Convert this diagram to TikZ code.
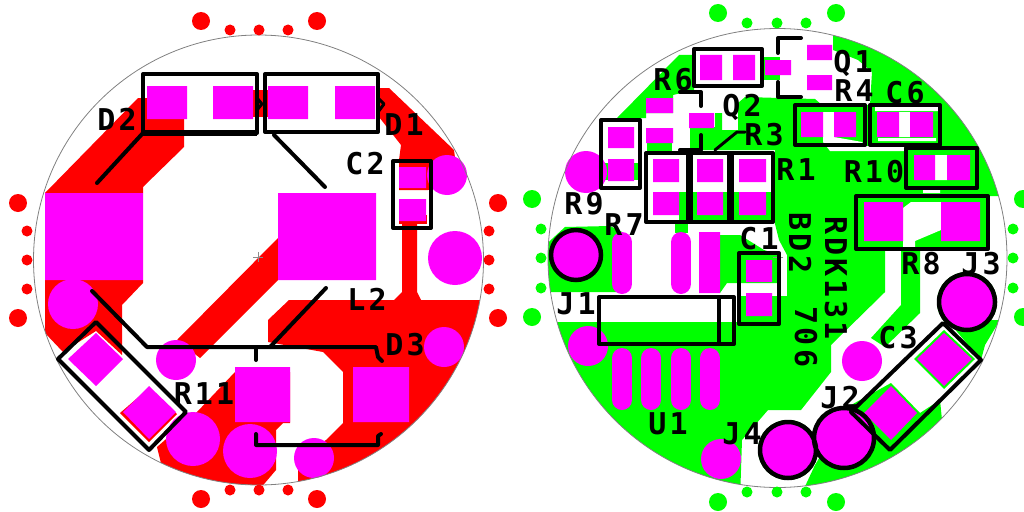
\documentclass[tikz,border=0pt]{standalone}
\usepackage{fontspec}
\newfontfamily\silkfont[LetterSpace=10,BoldFont={DejaVu Sans Mono Bold}]{DejaVu Sans Mono}
\definecolor{mag}{RGB}{255,0,255}
\definecolor{cured}{RGB}{255,0,0}
\definecolor{cugreen}{RGB}{0,255,0}
\tikzset{
  pad/.style={fill=mag},
  silk/.style={draw=black,line width=4pt,line join=round,line cap=round},
  ring/.style={draw=black,line width=4.5pt},
  outline/.style={draw=black!50,line width=0.8pt},
  lab/.style={text=black,inner sep=0pt,text height=22pt,text depth=0pt,font=\silkfont\bfseries\fontsize{30}{30}\selectfont},
  longpad/.style={draw=mag,line width=20pt,line cap=round},
}
\begin{document}
\begin{tikzpicture}[x=1pt,y=-1pt]
\useasboundingbox (0,0) rectangle (1024,511);
% ---------- left board: copper
\begin{scope}
\clip (258.5,260) circle (225);
\fill[cured] (45,193)--(138,98)--(184,98)--(184,147)--(143,187)--(143,193)--cycle;
\fill[cured] (253,90) rectangle (268,117);
\fill[cured] (376,88)--(389,88)--(454,150)--(458,180)--(428,190)--(399,190)--(399,160)--(401,145)--(379,117)--(376,117)--cycle;
\fill[cured] (402,215)--(417,215)--(417,292)--(421,300)--(490,300)--(490,500)--(298,500)--(298,458)--(326,440)--(343,423)--(343,372)--(323,352)--(268,342)--(268,320)--(289,300)--(394,300)--(402,292)--cycle;
\fill[cured] (399,215)--(427,215)--(427,224)--(399,224)--cycle;
\fill[cured] (45,280)--(45,333)--(63,352)--(96,331)--(122,355)--(122,305)--(143,283)--(143,280)--cycle;
\fill[cured] (278,238)--(177,340)--(200,358)--(278,280)--cycle;
\fill[cured] (235,372)--(197,412)--(157,447)--(170,500)--(259,490)--(276,470)--(276,430)--(283,423)--(290,423)--(290,372)--cycle;
\fill[cured] (149,388)--(177,414)--(149,442)--(120,413)--cycle;
\end{scope}
% left pads
\path[pad] (147,86) rectangle (187,119) (213,86) rectangle (253,119)
  (268,86) rectangle (308,119) (335,86) rectangle (375,119)
  (399,167) rectangle (426,188) (399,199) rectangle (426,221)
  (45,193) rectangle (143,280) (278,193) rectangle (376,280)
  (235,367) rectangle (290,422) (353,367) rectangle (409,422);
\path[pad] (96,333)--(123,359)--(96,386)--(68,359)--cycle
  (149,386)--(176,412)--(149,439)--(123,412)--cycle;
\path[pad] (73,304) circle (25) (176,360) circle (20) (193,439) circle (27)
  (250,451) circle (27) (314,458) circle (20) (444,347) circle (20)
  (455,258) circle (27) (447,175) circle (20);
\path[outline] (258.5,260) circle (225);
\draw[black!45,line width=0.6pt] (253,257)--(263,257) (258,252)--(258,262);
% left drill dots
\fill[cured] (201,21) circle (9) (317,21) circle (9) (201,499) circle (9) (317,499) circle (9)
  (18,203) circle (9) (18,318) circle (9) (498,203) circle (9) (498,318) circle (9);
\fill[cured] (230,30) circle (5.5) (259,30) circle (5.5) (288,30) circle (5.5)
  (230,490) circle (5.5) (259,490) circle (5.5) (288,490) circle (5.5)
  (27,231) circle (5.5) (27,260) circle (5.5) (27,289) circle (5.5)
  (489,231) circle (5.5) (489,260) circle (5.5) (489,289) circle (5.5);
% left silk
\path[silk] (143,74) rectangle (257,133);
\draw[black,line width=6pt] (143,133)--(257,133);
\path[silk] (265,74) rectangle (378,132);
\path[silk] (143,133)--(97,183) (274,135)--(325,187);
\path[silk] (92,291)--(147,347)--(376,347)--(378,357)--(382,361);
\path[silk] (326,288)--(270,347);
\path[silk] (256,347)--(256,360);
\path[silk] (256,434)--(256,445)--(378,445)--(378,436)--(381,434);
\path[silk] (393,161) rectangle (431,228);
\path[silk] (96,322)--(58,359)--(149,450)--(186,412)--cycle;
\path[silk,line width=3pt] (378,98)--(384,104)--(378,112) (257,98)--(262,104)--(257,110);
% left labels
\node[lab] (tD2) at (117,119) {D2};
\node[lab] (tD1) at (404,124) {D1};
\node[lab] (tC2) at (365,163) {C2};
\node[lab] (tL2) at (367,299) {L2};
\node[lab] (tD3) at (405,344) {D3};
\node[lab] (tR11) at (204,393) {R11};
% ---------- right board: copper
\begin{scope}
\clip (777.5,258) circle (229.5);
\fill[cugreen] (617,118)--(679,55)--(694,55)--(694,90)--(673,95)--(673,113)--(646,113)--(646,118)--cycle;
\fill[cugreen] (647,143)--(672,143)--(672,153)--(647,153)--cycle;
\fill[cugreen] (602,163) rectangle (640,180);
\fill[cugreen] (679,192) rectangle (775,222);
\fill[cugreen] (675,222) rectangle (688,233);
\fill[cugreen] (764,57) rectangle (780,80);
\fill[cugreen] (540,250)--(565,227)--(610,226)--(622,232)--(622,292)--(540,292)--cycle;
\fill[cugreen] (720,235)--(740,235)--(764,250)--(779,255)--(779,283)--(727,283)--(720,293)--cycle;
% main area
\fill[cugreen] (530,322)--(737,322)--(737,296)--(787,296)--(787,255)--(779,240)--(775,224)--(775,150)--(690,150)--(690,127)--(715,127)--(715,113)--(722,113)--(722,130)--(738,130)--(738,103)--(745,97)--(815,99)--(822,105)--(870,105)--(872,72)--(858,60)--(833,50)--(833,20)--(1020,20)--(1020,196)--(988,196)--(988,250)--(920,250)--(920,313)--(885,347)--(871,338)--(901,305)--(901,250)--(885,250)--(885,292)--(831,345)--(831,372)--(801,410)--(768,410)--(742,440)--(740,500)--(530,500)--cycle;
% lower right patches
\fill[cugreen] (801,495)--(815,465)--(851,405)--(891,383)--(920,413)--(940,400)--(950,500)--cycle;
\fill[cugreen] (944,330)--(975,359)--(944,389)--(914,359)--cycle;
\fill[cugreen] (947,320)--(1000,320)--(985,345)--(981,360)--cycle;
\fill[cugreen] (967,302) circle (30) (844,438) circle (31) (788,450) circle (30);
% cleared channels
\fill[white] (823,112)--(834,112)--(834,137)--(862,142)--(865,146)--(906,146)--(906,151)--(830,151)--(823,142)--cycle;
\fill[white] (899,112) rectangle (910,137) (878,138) rectangle (936,141) (875,107) rectangle (938,111);
\fill[white] (935,155) rectangle (947,180) (923,190) rectangle (940,193);
\fill[white] (903,208)--(911,202)--(941,202)--(941,230)--(915,241)--(915,248)--(903,248)--cycle;
\fill[white] (652,182) rectangle (775,192);
\fill[white] (692,155) rectangle (697,182) (723,155) rectangle (727,182) (733,155) rectangle (739,182) (766,155) rectangle (771,182);
\end{scope}
% right pads
\path[pad] (608,127) rectangle (634,148) (608,159) rectangle (634,181)
  (646,98) rectangle (673,113) (646,128) rectangle (673,143)
  (689,113) rectangle (714,128)
  (653,159) rectangle (679,182) (653,192) rectangle (679,215)
  (697,159) rectangle (723,182) (697,192) rectangle (723,215)
  (739,159) rectangle (766,182) (739,192) rectangle (766,215)
  (700,55) rectangle (722,80) (733,55) rectangle (755,80)
  (807,45) rectangle (832,60) (807,75) rectangle (832,90) (765,60) rectangle (791,75)
  (801,112) rectangle (823,137) (834,112) rectangle (856,137)
  (877,112) rectangle (899,137) (910,112) rectangle (933,137)
  (914,155) rectangle (935,180) (947,155) rectangle (970,180)
  (864,202) rectangle (903,241) (941,202) rectangle (980,241)
  (746,260) rectangle (772,282) (746,293) rectangle (772,316)
  (699,232) rectangle (720,293);
\path[pad] (944,333)--(972,359)--(944,386)--(917,359)--cycle
  (891,386)--(917,413)--(891,440)--(864,413)--cycle;
\path[pad] (586,172) circle (21) (588,346) circle (20) (721,459) circle (20) (862,361) circle (20)
  (576,255) circle (25) (788,450) circle (27) (844,438) circle (28) (967,302) circle (26);
\path[longpad] (622,242)--(622,284) (681,242)--(681,284)
  (622,358)--(622,400) (651,358)--(651,400) (681,358)--(681,400) (710,358)--(710,400);
\path[outline] (777.5,258) circle (229.5);
\draw[black!45,line width=0.6pt] (773,257)--(783,257) (778,252)--(778,262);
% right drill dots
\fill[cugreen] (718,13) circle (9) (836,13) circle (9) (718,502) circle (9) (836,502) circle (9)
  (532,199) circle (9) (532,317) circle (9) (1023,199) circle (9) (1023,317) circle (9);
\fill[cugreen] (747,23) circle (5.5) (777,23) circle (5.5) (806,23) circle (5.5)
  (747,492) circle (5.5) (777,492) circle (5.5) (806,492) circle (5.5)
  (541,229) circle (5.5) (541,258) circle (5.5) (541,288) circle (5.5)
  (1013,229) circle (5.5) (1013,258) circle (5.5) (1013,288) circle (5.5);
% right silk
\path[silk] (601,120) rectangle (640,188);
\path[silk] (646,153) rectangle (773,222);
\draw[black,line width=7pt] (689,153)--(689,222) (730,153)--(730,222);
\path[silk] (694,49) rectangle (762,86);
\path[silk] (801,38)--(778,38)--(778,53) (778,82)--(778,97)--(801,97);
\path[silk] (680,92)--(701,92)--(701,106) (701,135)--(701,150)--(680,150);
\path[silk,line width=3pt] (715,150)--(737,132)--(745,132);
\path[silk] (795,105) rectangle (865,145) (870,105) rectangle (940,145)
  (906,148) rectangle (977,188) (856,196) rectangle (988,249);
\path[silk] (599,297) rectangle (734,344) (719,297)--(719,344);
\path[silk] (739,253) rectangle (779,324);
\path[silk] (943,323)--(981,360)--(890,450)--(851,412)--cycle;
\path[ring] (576,255) circle (25) (788,450) circle (28) (844,438) circle (30) (967,302) circle (28);
% right labels
\node[lab] (tR6) at (673,79) {R6};
\node[lab] (tQ2) at (742,105) {Q2};
\node[lab] (tR3) at (764,134) {R3};
\node[lab] (tQ1) at (853,61) {Q1};
\node[lab] (tR4) at (854,90) {R4};
\node[lab] (tC6) at (905,92) {C6};
\node[lab] (tR1) at (796,169) {R1};
\node[lab] (tR10) at (874,171) {R10};
\node[lab] (tR9) at (584,203) {R9};
\node[lab] (tR7) at (624,224) {R7};
\node[lab] (tC1) at (759,238) {C1};
\node[lab] (tJ1) at (576,303) {J1};
\node[lab] (tU1) at (668,423) {U1};
\node[lab] (tJ4) at (742,433) {J4};
\node[lab] (tJ2) at (840,397) {J2};
\node[lab] (tC3) at (898,337) {C3};
\node[lab] (tR8) at (921,263) {R8};
\node[lab] (tJ3) at (981,263) {J3};
\node[lab,rotate=-90] (tRDK) at (836,278) {RDK131};
\node[lab,rotate=-90] (tBD) at (800,243) {BD2};
\node[lab,rotate=-90] (t706) at (806,337) {706};
\end{tikzpicture}
\end{document}
